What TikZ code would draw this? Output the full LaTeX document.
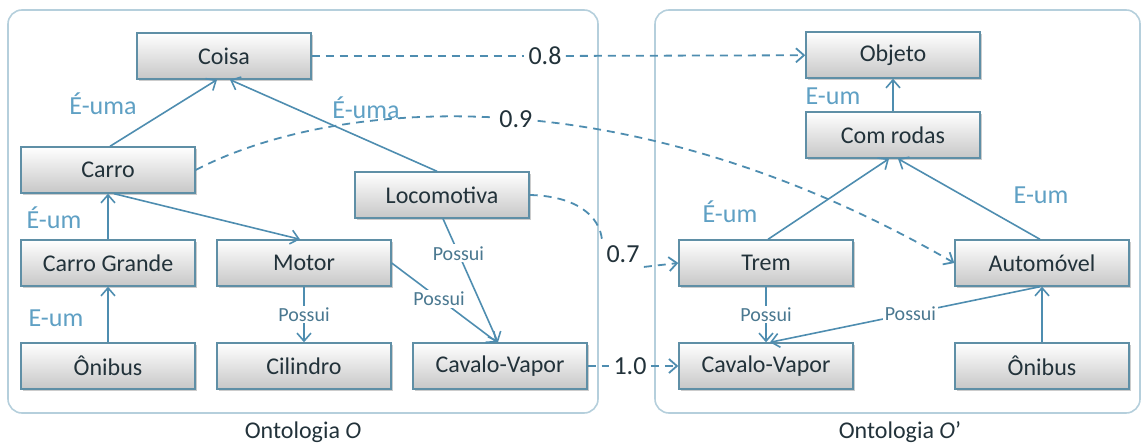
\documentclass[tikz,border=0pt]{standalone}
\usepackage{fontspec}
\setmainfont{Carlito}
\usetikzlibrary{arrows.meta,shadows}
\definecolor{edgec}{HTML}{4E8DB0}
\definecolor{boxb}{HTML}{5F8FA6}
\definecolor{lblc}{HTML}{5FA0C4}
\definecolor{possc}{HTML}{4A7890}
\definecolor{framec}{HTML}{B5CFDC}
\definecolor{txt}{HTML}{22323A}
\begin{document}
\begin{tikzpicture}[x=0.5pt,y=-0.5pt,
  box/.style={draw=boxb, line width=0.7pt, top color=white, bottom color=black!22,
    minimum width=87pt, minimum height=23pt, inner sep=0pt,
    font=\fontsize{12}{14}\selectfont, text=txt,
    drop shadow={shadow xshift=1pt, shadow yshift=-1pt, fill=black!40, opacity=0.5}},
  rel/.style={draw=edgec, line width=0.8pt, -{Straight Barb[length=4pt,width=7pt]}},
  mapline/.style={draw=edgec, line width=0.9pt, dash pattern=on 4pt off 3pt},
  map/.style={mapline, -{Straight Barb[length=4pt,width=7pt]}},
  isalbl/.style={text=lblc, font=\fontsize{13}{15}\selectfont},
  poss/.style={text=possc, font=\fontsize{10}{11}\selectfont, fill=white, inner sep=1pt},
  num/.style={text=txt, font=\fontsize{13}{15}\selectfont, fill=white, inner sep=2pt},
  frame/.style={draw=framec, line width=0.8pt, rounded corners=7pt},
  captxt/.style={text=txt, font=\fontsize{12}{14}\selectfont}]
\useasboundingbox (0,0) rectangle (1143,443);
\draw[frame] (8,10) rectangle (598,413);
\draw[frame] (655,10) rectangle (1140,413);
% left ontology
\node[box] (coisa) at (224,56) {Coisa};
\node[box] (carro) at (108,170) {Carro};
\node[box] (loco) at (442,195) {Locomotiva};
\node[box] (cg) at (108,263) {Carro Grande};
\node[box] (motor) at (304,263) {Motor};
\node[box] (oni1) at (108,366) {Ônibus};
\node[box] (cil) at (304,366) {Cilindro};
\node[box] (cv1) at (500,366) {Cavalo-Vapor};
% right ontology
\node[box] (objeto) at (893,55) {Objeto};
\node[box] (rodas) at (893,135) {Com rodas};
\node[box] (trem) at (766,263) {Trem};
\node[box] (auto) at (1042,263) {Automóvel};
\node[box] (cv2) at (766,366) {Cavalo-Vapor};
\node[box] (oni2) at (1042,366) {Ônibus};
% left edges
\draw[rel] ([xshift=1pt]carro.north) -- ([xshift=-3.5pt]coisa.south);
\draw[rel] ([xshift=-2.5pt]loco.north) -- ([xshift=3pt]coisa.south);
\draw[rel] (cg) -- (carro);
\draw[rel] (oni1) -- (cg);
\draw[rel] ([xshift=3pt]carro.south) -- ([xshift=-2pt]motor.north);
\draw[rel] (motor) -- node[poss]{Possui} (cil);
\draw[rel] (motor.east) -- node[poss,pos=0.45]{Possui} ([xshift=-1.5pt]cv1.north);
\draw[rel] ([xshift=0.5pt]loco.south) -- node[poss,pos=0.28]{Possui} ([xshift=-1pt]cv1.north);
% right edges
\draw[rel] (rodas) -- (objeto);
\draw[rel] ([xshift=1pt]trem.north) -- ([xshift=-2pt]rodas.south);
\draw[rel] ([xshift=-1pt]auto.north) -- ([xshift=2.5pt]rodas.south);
\draw[rel] (trem) -- node[poss]{Possui} (cv2);
\draw[rel] ([xshift=-1pt]auto.south) -- node[poss,pos=0.48]{Possui} ([xshift=2pt]cv2.north);
\draw[rel] (oni2) -- (auto);
% labels
\node[isalbl] (l1) at (103,104) {É-uma};
\node[isalbl] (l2) at (366,108) {É-uma};
\node[isalbl] (l3) at (54,218) {É-um};
\node[isalbl] (l4) at (56,318) {E-um};
\node[isalbl] (l5) at (833,96) {E-um};
\node[isalbl] (l6) at (730,212) {É-um};
\node[isalbl] (l7) at (1041,195) {E-um};
% mappings
\node[num] (n08) at (545,56) {0.8};
\draw[mapline] (coisa) -- (n08);
\draw[map] (n08) -- (objeto);
\node[num] (n10) at (630,366) {1.0};
\draw[mapline] (cv1) -- (n10);
\draw[map] (n10) -- (cv2);
\node[num] (n07) at (623,254) {0.7};
\draw[mapline] (loco.east) .. controls (575,196) and (600,215) .. (n07.north west);
\draw[map] (n07.south east) -- (trem.west);
\draw[map] (carro.east) .. controls (330,100) and (620,70) .. node[num,pos=0.52] (n09) {0.9} (auto.west);
% captions
\node[captxt] (t1) at (303,432) {Ontologia \textit{O}};
\node[captxt] (t2) at (900,432) {Ontologia \textit{O}’};
\end{tikzpicture}
\end{document}
